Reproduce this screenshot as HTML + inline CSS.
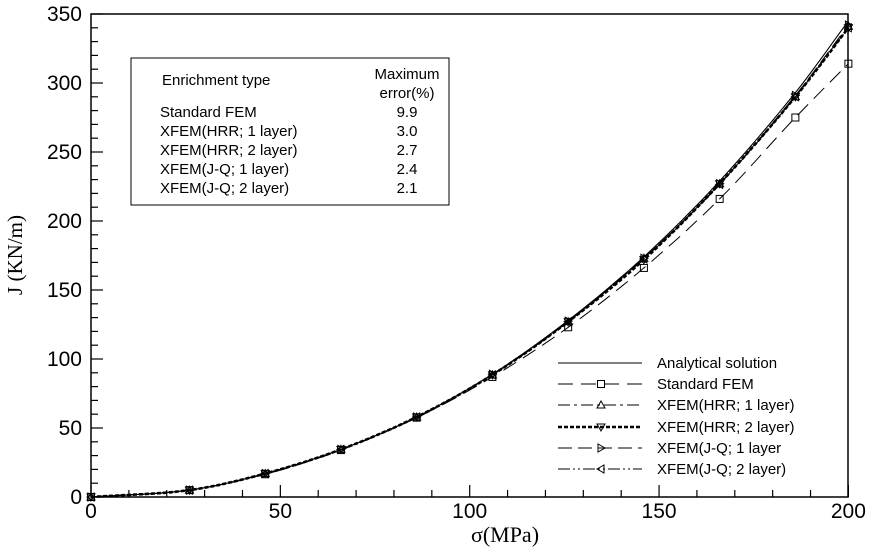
<!DOCTYPE html>
<html><head><meta charset="utf-8"><style>
body{margin:0;background:#fff;}
svg{display:block;font-family:"Liberation Sans",sans-serif;}
</style></head><body>
<svg id="s" width="873" height="547" viewBox="0 0 873 547" xmlns="http://www.w3.org/2000/svg">
<rect x="91" y="14" width="757" height="483" fill="none" stroke="#000" stroke-width="1.5"/>
<g id="ticks" stroke="#000" stroke-width="1.2"></g>
<g font-size="21" fill="#000" text-anchor="end" id="ylab"></g>
<g font-size="21" fill="#000" text-anchor="middle" id="xlab"></g>
<text x="505" y="542" font-family="Liberation Serif" font-size="22" text-anchor="middle">σ(MPa)</text>
<text transform="translate(22,255) rotate(-90)" font-family="Liberation Serif" font-size="21" text-anchor="middle">J (KN/m)</text>
<g id="curves" fill="none"></g>
<rect x="131" y="58" width="318" height="147" fill="#fff" stroke="#000" stroke-width="1"/>
<g font-size="15" fill="#000">
<text x="162" y="85">Enrichment type</text>
<text x="407" y="79" text-anchor="middle">Maximum</text>
<text x="407" y="98" text-anchor="middle">error(%)</text>
<text x="160" y="117">Standard FEM</text><text x="407" y="117" text-anchor="middle">9.9</text>
<text x="160" y="136">XFEM(HRR; 1 layer)</text><text x="407" y="136" text-anchor="middle">3.0</text>
<text x="160" y="155">XFEM(HRR; 2 layer)</text><text x="407" y="155" text-anchor="middle">2.7</text>
<text x="160" y="174">XFEM(J-Q; 1 layer)</text><text x="407" y="174" text-anchor="middle">2.4</text>
<text x="160" y="193">XFEM(J-Q; 2 layer)</text><text x="407" y="193" text-anchor="middle">2.1</text>
</g>
<g id="legend" font-size="15" fill="#000"></g>
</svg>
<script>
var NS="http://www.w3.org/2000/svg";
function X(s){return 91+s*3.787;}function Y(j){return 497-j*1.38;}
function el(p,t,a){var e=document.createElementNS(NS,t);for(var k in a)e.setAttribute(k,a[k]);document.getElementById(p).appendChild(e);return e;}
for(var s=0;s<=200;s+=10){var L=s%50==0?12:7;el("ticks","line",{x1:X(s),x2:X(s),y1:497,y2:497-L});if(s%50==0){var t=el("xlab","text",{x:X(s),y:518});t.textContent=s;}}
for(var j=0;j<=350;j+=10){var L=j%50==0?12:7;el("ticks","line",{x1:91,x2:91+L,y1:Y(j),y2:Y(j)});if(j%50==0){var t=el("ylab","text",{x:82,y:Y(j)+7});t.textContent=j;}}
var xs=[0,26,46,66,86,106,126,146,166,186,200];
var A=[0,5,17,34.5,58,89,128,174,229,293,345];
var F=[0,5,16.5,34,57.5,87,123,166,216,275,314];
var H1=[0,5,17,34.5,58,88.5,127,173,227,290,341];
var H2=[0,5,17,34.5,58,88.5,127,172,227,290,340];
var J1=[0,5,17,34.5,58,89,127.5,173,227,291,342];
var J2=[0,5,17,34.5,58,88.5,127,172.5,226.5,290,340];
function interp(arr,s){var n=arr.length;for(var i=1;i<n;i++){if(s<=xs[i]){var i0=i-1;var h=xs[i]-xs[i0];var t=(s-xs[i0])/h;
function slope(k){if(k==0)return (arr[1]-arr[0])/(xs[1]-xs[0]);if(k==n-1)return (arr[n-1]-arr[n-2])/(xs[n-1]-xs[n-2]);return (arr[k+1]-arr[k-1])/(xs[k+1]-xs[k-1]);}
var m0=slope(i0)*h,m1=slope(i)*h,t2=t*t,t3=t2*t;
return (2*t3-3*t2+1)*arr[i0]+(t3-2*t2+t)*m0+(-2*t3+3*t2)*arr[i]+(t3-t2)*m1;}}return arr[n-1];}
function path(arr){var d="";for(var s=0;s<=200;s+=2){d+=(s?"L":"M")+X(s).toFixed(1)+","+Y(interp(arr,s)).toFixed(1);}return d;}
function marker(g,type,x,y){var a={fill:"none",stroke:"#000","stroke-width":1};
if(type=="sq")el(g,"rect",Object.assign({x:x-3.5,y:y-3.5,width:7,height:7},a));
if(type=="tri")el(g,"polygon",Object.assign({points:(x)+","+(y-4)+" "+(x-4)+","+(y+3)+" "+(x+4)+","+(y+3)},a));
if(type=="dtri")el(g,"polygon",Object.assign({points:(x)+","+(y+4)+" "+(x-4)+","+(y-3)+" "+(x+4)+","+(y-3)},a));
if(type=="rtri")el(g,"polygon",Object.assign({points:(x+4)+","+(y)+" "+(x-3)+","+(y-4)+" "+(x-3)+","+(y+4)},a));
if(type=="ltri")el(g,"polygon",Object.assign({points:(x-4)+","+(y)+" "+(x+3)+","+(y-4)+" "+(x+3)+","+(y+4)},a));}
var S=[[F,"15,8",1,"sq"],[H1,"12,4,3,4",1,"tri"],[J1,"14,6",1,"rtri"],[J2,"12,3,2,3,2,3",1,"ltri"],[H2,"4,2",2.6,"dtri"],[A,"",1.1,null]];
S.forEach(function(c){el("curves","path",{d:path(c[0]),stroke:"#000","stroke-width":c[2],"stroke-dasharray":c[1]});
if(c[3])for(var i=0;i<xs.length;i++)marker("curves",c[3],X(xs[i]),Y(c[0][i]));});
var names=["Analytical solution","Standard FEM","XFEM(HRR; 1 layer)","XFEM(HRR; 2 layer)","XFEM(J-Q; 1 layer","XFEM(J-Q; 2 layer)"];
var LS=[["",1.1,null],["15,8",1,"sq"],["12,4,3,4",1,"tri"],["4,2",2.6,"dtri"],["14,6",1,"rtri"],["12,3,2,3,2,3",1,"ltri"]];
var ly=[363,384,405,427,448,469];
for(var i=0;i<6;i++){el("legend","line",{x1:558,x2:642,y1:ly[i],y2:ly[i],stroke:"#000","stroke-width":LS[i][1],"stroke-dasharray":LS[i][0]});
if(LS[i][2])marker("legend",LS[i][2],601,ly[i]);var t=el("legend","text",{x:657,y:ly[i]+5});t.textContent=names[i];}
</script>
</body></html>
